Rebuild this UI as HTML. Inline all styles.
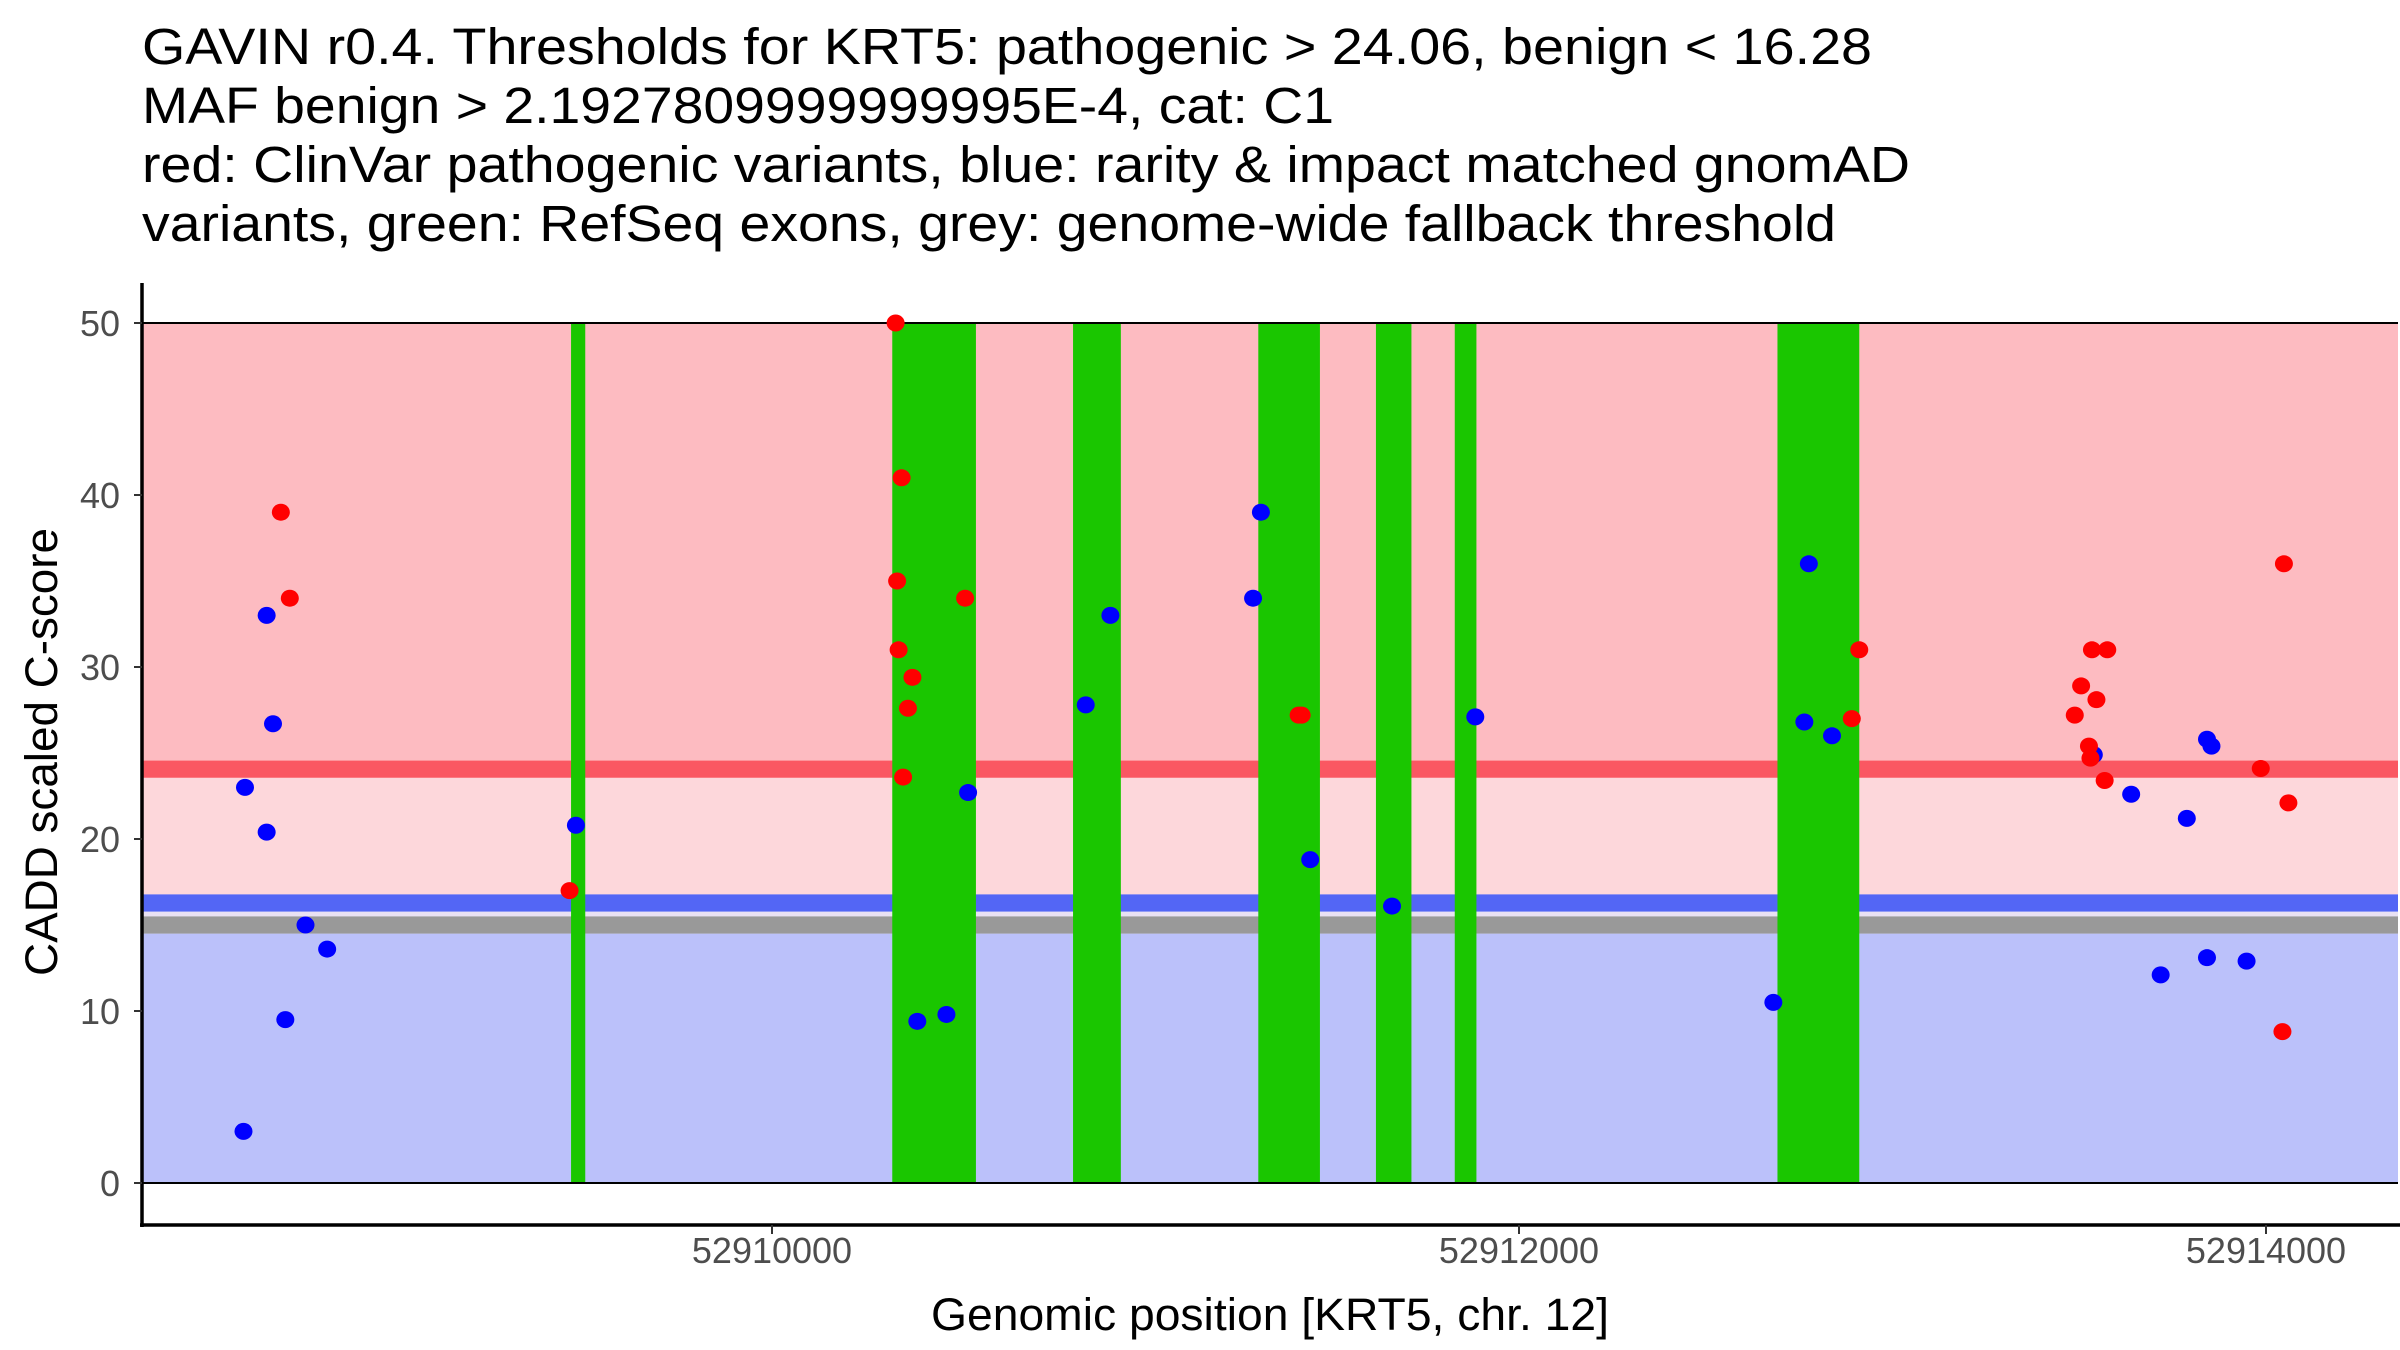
<!DOCTYPE html>
<html><head><meta charset="utf-8"><style>
html,body{margin:0;padding:0;background:#fff;}
svg{display:block;font-family:"Liberation Sans",Arial,sans-serif;}
</style></head><body>
<svg id="chart" width="2400" height="1350" viewBox="0 0 2400 1350" xmlns="http://www.w3.org/2000/svg">
<g font-size="51" fill="#000">
<text x="142" y="64" textLength="1730" lengthAdjust="spacingAndGlyphs">GAVIN r0.4. Thresholds for KRT5: pathogenic &gt; 24.06, benign &lt; 16.28</text>
<text x="142" y="123" textLength="1192" lengthAdjust="spacingAndGlyphs">MAF benign &gt; 2.1927809999999995E-4, cat: C1</text>
<text x="142" y="182" textLength="1768" lengthAdjust="spacingAndGlyphs">red: ClinVar pathogenic variants, blue: rarity &amp; impact matched gnomAD</text>
<text x="142" y="241" textLength="1694" lengthAdjust="spacingAndGlyphs">variants, green: RefSeq exons, grey: genome-wide fallback threshold</text>
</g>
<g id="bands"></g><g id="exons"></g><g id="frame"></g><g id="points"></g><g id="axes"></g>
<text x="1270" y="1330" font-size="45" text-anchor="middle" fill="#000" textLength="678" lengthAdjust="spacingAndGlyphs">Genomic position [KRT5, chr. 12]</text>
<text transform="translate(57,752) rotate(-90)" font-size="45" text-anchor="middle" fill="#000" textLength="448" lengthAdjust="spacingAndGlyphs">CADD scaled C-score</text>
</svg>
<script>
const yTicks=[0,10,20,30,40,50];
const xTicks=[52910000,52912000,52914000];
const xTickLabels=["52910000","52912000","52914000"];
const exonStarts=[52909462,52910322,52910806,52911302,52911617,52911828,52912692];
const exonEnds=[52909500,52910546,52910934,52911467,52911712,52911886,52912911];
const redX=[52908685,52908709,52909458,52910331,52910347,52910335,52910339,52910376,52910364,52910351,52910517,52911410,52911418,52912911,52912891,52913488,52913505,52913534,52913575,52913546,52913526,52913530,52913568,52913986,52914060,52914048,52914044];
const redY=[39,34,17,50,41,35,31,29.4,27.6,23.6,34,27.2,27.2,31,27,27.2,28.9,31,31,28.1,25.4,24.7,23.4,24.1,22.1,36,8.8];
const blueX=[52908585,52908589,52908647,52908647,52908664,52908697,52908751,52908809,52909475,52910389,52910467,52910525,52910840,52910906,52911309,52911288,52911441,52911660,52911883,52912776,52912764,52912838,52912681,52913539,52913639,52913788,52913718,52913842,52913948,52913842,52913854];
const blueY=[3,23,33,20.4,26.7,9.5,15,13.6,20.8,9.4,9.8,22.7,27.8,33,39,34,18.8,16.1,27.1,36,26.8,26,10.5,24.9,22.6,21.2,12.1,13.1,12.9,25.8,25.4];
const pathThr=24.06, benignThr=16.28, fallback=15;

const X0=142,X1=2398,Y50=323,Y0=1183;
const xs=v=>772+(v-52910000)*(2266-772)/4000;
const ys=v=>Y0+(Y50-Y0)*v/50;
const NS="http://www.w3.org/2000/svg";
function mk(tag,parent,attrs){const e=document.createElementNS(NS,tag);for(const k in attrs)e.setAttribute(k,attrs[k]);document.getElementById(parent).appendChild(e);return e;}
function band(lo,hi,fill,name){const e=mk('rect','bands',{x:X0,width:X1-X0,y:ys(hi),height:ys(lo)-ys(hi),fill:fill});

}
band(0,fallback-0.5,'#bbc1fa','benign-region');
band(fallback+0.5,benignThr-0.5,'#e9e1f3','gap-region');
band(benignThr+0.5,pathThr-0.5,'#fdd7db','intermediate-region');
band(pathThr+0.5,50,'#fdbbc1','pathogenic-region');
band(pathThr-0.5,pathThr+0.5,'#fa5762','pathogenic-threshold-line');
band(benignThr-0.5,benignThr+0.5,'#5366f5','benign-threshold-line');
band(fallback-0.5,fallback+0.5,'#999999','fallback-threshold-line');
for(let i=0;i<exonStarts.length;i++){const e=mk('rect','exons',{x:xs(exonStarts[i]),width:xs(exonEnds[i])-xs(exonStarts[i]),y:ys(50),height:ys(0)-ys(50),fill:'#1ac600'});

}
[0,50].forEach(v=>{const e=mk('line','frame',{x1:X0,x2:X1,y1:ys(v),y2:ys(v),stroke:'#000','stroke-width':2});

});
for(let i=0;i<blueX.length;i++){const e=mk('ellipse','points',{cx:xs(blueX[i]),cy:ys(blueY[i]),rx:9,ry:8.5,fill:'#0000ff'});

}
for(let i=0;i<redX.length;i++){const e=mk('ellipse','points',{cx:xs(redX[i]),cy:ys(redY[i]),rx:9,ry:8.5,fill:'#ff0000'});

}
let a=mk('line','axes',{x1:X0,x2:X0,y1:283,y2:1227,stroke:'#000','stroke-width':3.5});


a=mk('line','axes',{x1:X0-2,x2:2400,y1:1225,y2:1225,stroke:'#000','stroke-width':3.5});


yTicks.forEach(v=>{const t=mk('line','axes',{x1:X0-8,x2:X0,y1:ys(v),y2:ys(v),stroke:'#333','stroke-width':2});


const l=mk('text','axes',{x:X0-22,y:ys(v)+13,'font-size':36,'text-anchor':'end',fill:'#4d4d4d'});l.textContent=v;

});
xTicks.forEach((v,i)=>{const t=mk('line','axes',{x1:xs(v),x2:xs(v),y1:1225,y2:1234,stroke:'#333','stroke-width':2});


const l=mk('text','axes',{x:xs(v),y:1263,'font-size':36,'text-anchor':'middle',fill:'#4d4d4d'});l.textContent=xTickLabels[i];

});
</script>
</body></html>
